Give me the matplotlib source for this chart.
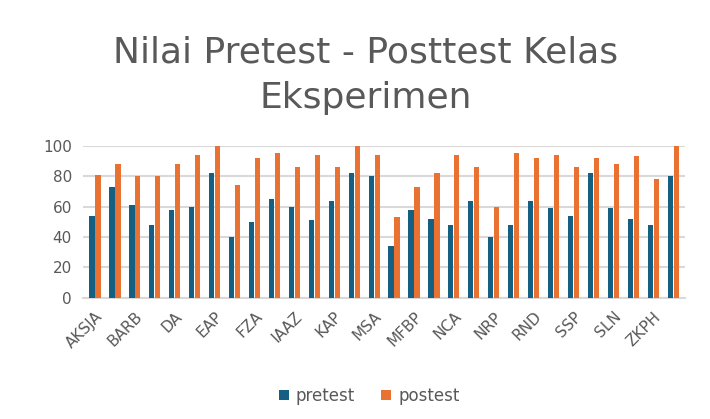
import numpy as np
import matplotlib.pyplot as plt

plt.rcParams['font.family'] = ['DejaVu Sans']

# --- data (labels only shown on every other category) ---
labels = ["AKSJA", "", "BARB", "", "DA", "", "EAP", "", "FZA", "", "IAAZ", "",
          "KAP", "", "MSA", "", "MFBP", "", "NCA", "", "NRP", "", "RND", "",
          "SSP", "", "SLN", "", "ZKPH", ""]
pretest = [54, 73, 61, 48, 58, 60, 82, 40, 50, 65, 60, 51, 64, 82, 80,
           34, 58, 52, 48, 64, 40, 48, 64, 59, 54, 82, 59, 52, 48, 80]
postest = [81, 88, 80, 80, 88, 94, 100, 74, 92, 95, 86, 94, 86, 100, 94,
           53, 73, 82, 94, 86, 60, 95, 92, 94, 86, 92, 88, 93, 78, 100]

blue = '#156082'
orange = '#E97132'
grey = '#595959'

fig = plt.figure(figsize=(7.1, 4.19), dpi=100)
ax = fig.add_axes([0.117, 0.289, 0.848, 0.363])

x = np.arange(len(labels))
w = 0.26
ax.bar(x - 0.15, pretest, w, color=blue, label='pretest', zorder=3)
ax.bar(x + 0.15, postest, w, color=orange, label='postest', zorder=3)

ax.set_xlim(-0.6, len(labels) - 0.4)
ax.set_ylim(0, 100)
ax.set_yticks(range(0, 101, 20))
ax.grid(axis='y', color='#d9d9d9', linewidth=1.5, zorder=0)
for s in ['top', 'right', 'left']:
    ax.spines[s].set_visible(False)
ax.spines['bottom'].set_color('#d9d9d9')
ax.spines['bottom'].set_linewidth(1.5)
ax.tick_params(axis='both', length=0, labelsize=11, colors=grey, pad=8)

ax.set_xticks(x[::2])
ax.set_xticklabels(labels[::2], rotation=45, ha='right', rotation_mode='anchor')

fig.text(0.515, 0.82, 'Nilai Pretest - Posttest Kelas\nEksperimen', ha='center',
         va='center', fontsize=26, color=grey, linespacing=1.45)

fig.legend(loc='center', bbox_to_anchor=(0.52, 0.055), ncol=2, frameon=False,
           fontsize=12, labelcolor=grey, handlelength=0.6, handleheight=0.6,
           columnspacing=1.6, handletextpad=0.4)

fig.savefig('out.png', dpi=100)
